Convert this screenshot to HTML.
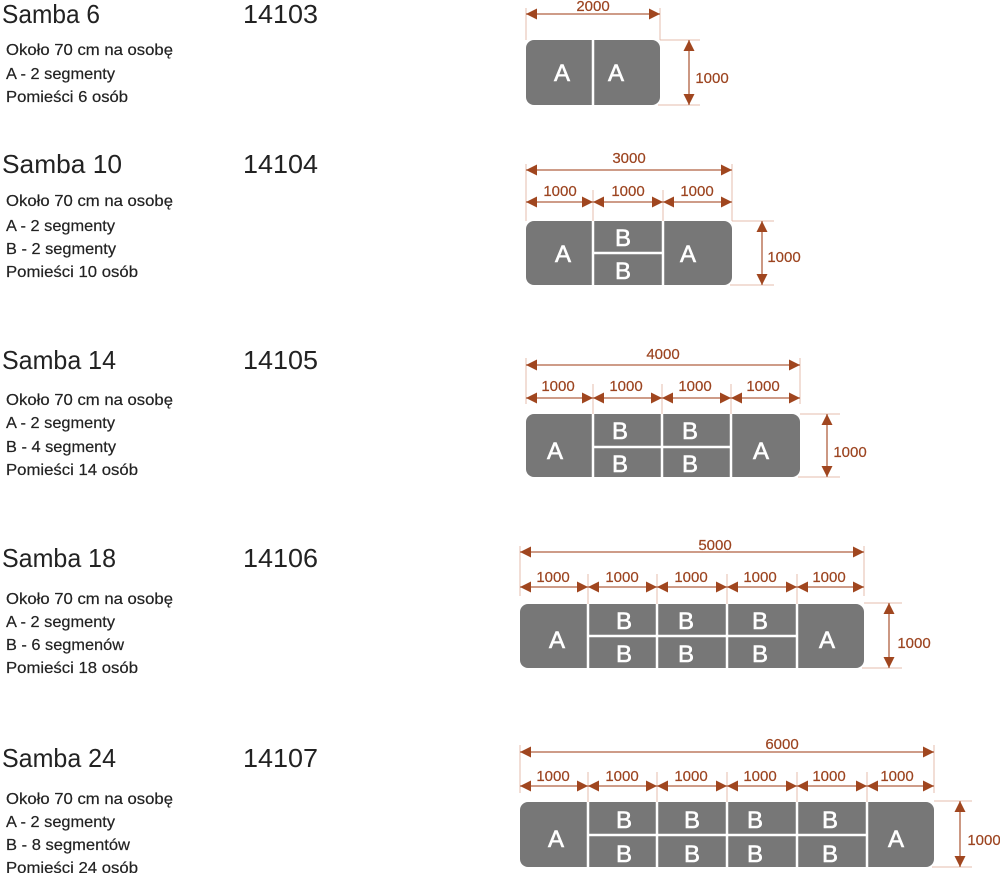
<!DOCTYPE html>
<html><head><meta charset="utf-8"><style>
html,body{margin:0;padding:0;background:#fff;}
svg{display:block;}
.t{font-family:"Liberation Sans Narrow","Liberation Sans",sans-serif;fill:#222;}
.ti{font-size:26px;}
.b{font-size:16px;stroke:#222;stroke-width:0.2;}
.d{font-family:"Liberation Sans Narrow","Liberation Sans",sans-serif;font-size:15px;fill:#9c4420;text-anchor:middle;stroke:#9c4420;stroke-width:0.2;}
.L{font-family:"Liberation Sans Narrow","Liberation Sans",sans-serif;font-size:24px;fill:#fff;text-anchor:middle;stroke:#fff;stroke-width:0.6;}
.dl{stroke:#b06040;stroke-width:1.3;marker-start:url(#ar);marker-end:url(#ar);}
.ex{stroke:#e4bcae;stroke-width:1;}
.sp{stroke:#fff;stroke-width:2.5;}
.tb{fill:#777;}
</style></head><body>
<svg width="1000" height="873" viewBox="0 0 1000 873" xmlns="http://www.w3.org/2000/svg">
<defs>
<marker id="ar" viewBox="0 0 10 10" refX="10" refY="5" markerWidth="13" markerHeight="11" markerUnits="userSpaceOnUse" orient="auto-start-reverse">
<path d="M0,0 L10,5 L0,10 z" fill="#a0461f"/>
</marker>
</defs>

<text class="t ti" x="2" y="23" textLength="98" lengthAdjust="spacingAndGlyphs">Samba 6</text>
<text class="t ti" x="243" y="23" textLength="75" lengthAdjust="spacingAndGlyphs">14103</text>
<text class="t b" x="6" y="55" textLength="167" lengthAdjust="spacingAndGlyphs">Około 70 cm na osobę</text>
<text class="t b" x="6" y="79" textLength="109" lengthAdjust="spacingAndGlyphs">A - 2 segmenty</text>
<text class="t b" x="6" y="102" textLength="122" lengthAdjust="spacingAndGlyphs">Pomieści 6 osób</text>

<text class="t ti" x="2" y="173" textLength="120" lengthAdjust="spacingAndGlyphs">Samba  10</text>
<text class="t ti" x="243" y="173" textLength="75" lengthAdjust="spacingAndGlyphs">14104</text>
<text class="t b" x="6" y="206" textLength="167" lengthAdjust="spacingAndGlyphs">Około 70 cm na osobę</text>
<text class="t b" x="6" y="231" textLength="109" lengthAdjust="spacingAndGlyphs">A - 2 segmenty</text>
<text class="t b" x="6" y="254" textLength="110" lengthAdjust="spacingAndGlyphs">B - 2 segmenty</text>
<text class="t b" x="6" y="277" textLength="132" lengthAdjust="spacingAndGlyphs">Pomieści 10 osób</text>

<text class="t ti" x="2" y="369" textLength="114" lengthAdjust="spacingAndGlyphs">Samba 14</text>
<text class="t ti" x="243" y="369" textLength="75" lengthAdjust="spacingAndGlyphs">14105</text>
<text class="t b" x="6" y="405" textLength="167" lengthAdjust="spacingAndGlyphs">Około 70 cm na osobę</text>
<text class="t b" x="6" y="428" textLength="109" lengthAdjust="spacingAndGlyphs">A - 2 segmenty</text>
<text class="t b" x="6" y="452" textLength="110" lengthAdjust="spacingAndGlyphs">B - 4 segmenty</text>
<text class="t b" x="6" y="475" textLength="132" lengthAdjust="spacingAndGlyphs">Pomieści 14 osób</text>

<text class="t ti" x="2" y="567" textLength="114" lengthAdjust="spacingAndGlyphs">Samba 18</text>
<text class="t ti" x="243" y="567" textLength="75" lengthAdjust="spacingAndGlyphs">14106</text>
<text class="t b" x="6" y="604" textLength="167" lengthAdjust="spacingAndGlyphs">Około 70 cm na osobę</text>
<text class="t b" x="6" y="627" textLength="109" lengthAdjust="spacingAndGlyphs">A - 2 segmenty</text>
<text class="t b" x="6" y="650" textLength="118" lengthAdjust="spacingAndGlyphs">B - 6 segmenów</text>
<text class="t b" x="6" y="673" textLength="132" lengthAdjust="spacingAndGlyphs">Pomieści 18 osób</text>

<text class="t ti" x="2" y="767" textLength="114" lengthAdjust="spacingAndGlyphs">Samba 24</text>
<text class="t ti" x="243" y="767" textLength="75" lengthAdjust="spacingAndGlyphs">14107</text>
<text class="t b" x="6" y="804" textLength="167" lengthAdjust="spacingAndGlyphs">Około 70 cm na osobę</text>
<text class="t b" x="6" y="827" textLength="109" lengthAdjust="spacingAndGlyphs">A - 2 segmenty</text>
<text class="t b" x="6" y="850" textLength="124" lengthAdjust="spacingAndGlyphs">B - 8 segmentów</text>
<text class="t b" x="6" y="873" textLength="132" lengthAdjust="spacingAndGlyphs">Pomieści 24 osób</text>

<!-- Diagram 1 -->
<line class="ex" x1="526" y1="8" x2="526" y2="40"/>
<line class="ex" x1="660" y1="8" x2="660" y2="40"/>
<line class="dl" x1="526" y1="14" x2="660" y2="14"/>
<text class="d" x="593" y="11">2000</text>
<rect class="tb" x="526" y="40" width="134" height="65" rx="8"/>
<line class="sp" x1="593" y1="40" x2="593" y2="105"/>
<text class="L" x="562" y="81">A</text><text class="L" x="616" y="81">A</text>
<line class="ex" x1="660" y1="40" x2="700" y2="40"/>
<line class="ex" x1="658" y1="105" x2="700" y2="105"/>
<line class="dl" x1="689" y1="40" x2="689" y2="105"/>
<text class="d" x="712" y="83">1000</text>

<!-- Diagram 2 -->
<line class="ex" x1="526" y1="164" x2="526" y2="221"/>
<line class="ex" x1="732" y1="164" x2="732" y2="221"/>
<line class="ex" x1="593" y1="190" x2="593" y2="221"/>
<line class="ex" x1="663" y1="190" x2="663" y2="221"/>
<line class="dl" x1="526" y1="170" x2="732" y2="170"/>
<text class="d" x="629" y="163">3000</text>
<line class="dl" x1="526" y1="202" x2="593" y2="202"/>
<line class="dl" x1="593" y1="202" x2="663" y2="202"/>
<line class="dl" x1="663" y1="202" x2="732" y2="202"/>
<text class="d" x="560" y="196">1000</text><text class="d" x="628" y="196">1000</text><text class="d" x="697" y="196">1000</text>
<rect class="tb" x="526" y="221" width="206" height="64" rx="8"/>
<line class="sp" x1="593" y1="221" x2="593" y2="285"/>
<line class="sp" x1="663" y1="221" x2="663" y2="285"/>
<line class="sp" x1="593" y1="253" x2="663" y2="253"/>
<text class="L" x="563" y="262">A</text><text class="L" x="688" y="262">A</text>
<text class="L" x="623" y="246">B</text><text class="L" x="623" y="279">B</text>
<line class="ex" x1="732" y1="221" x2="774" y2="221"/>
<line class="ex" x1="730" y1="285" x2="774" y2="285"/>
<line class="dl" x1="762" y1="221" x2="762" y2="285"/>
<text class="d" x="784" y="262">1000</text>

<!-- Diagram 3 -->
<line class="ex" x1="526" y1="358" x2="526" y2="404"/>
<line class="ex" x1="800" y1="358" x2="800" y2="404"/>
<line class="ex" x1="593" y1="384" x2="593" y2="414"/>
<line class="ex" x1="662" y1="384" x2="662" y2="414"/>
<line class="ex" x1="731" y1="384" x2="731" y2="414"/>
<line class="dl" x1="526" y1="365" x2="800" y2="365"/>
<text class="d" x="663" y="359">4000</text>
<line class="dl" x1="526" y1="398" x2="593" y2="398"/>
<line class="dl" x1="593" y1="398" x2="662" y2="398"/>
<line class="dl" x1="662" y1="398" x2="731" y2="398"/>
<line class="dl" x1="731" y1="398" x2="800" y2="398"/>
<text class="d" x="558" y="391">1000</text><text class="d" x="626" y="391">1000</text><text class="d" x="695" y="391">1000</text><text class="d" x="763" y="391">1000</text>
<rect class="tb" x="526" y="414" width="274" height="63" rx="8"/>
<line class="sp" x1="593" y1="414" x2="593" y2="477"/>
<line class="sp" x1="662" y1="414" x2="662" y2="477"/>
<line class="sp" x1="731" y1="414" x2="731" y2="477"/>
<line class="sp" x1="593" y1="447" x2="731" y2="447"/>
<text class="L" x="555" y="459">A</text><text class="L" x="761" y="459">A</text>
<text class="L" x="620" y="439">B</text><text class="L" x="690" y="439">B</text>
<text class="L" x="620" y="472">B</text><text class="L" x="690" y="472">B</text>
<line class="ex" x1="800" y1="414" x2="840" y2="414"/>
<line class="ex" x1="798" y1="477" x2="840" y2="477"/>
<line class="dl" x1="827" y1="414" x2="827" y2="477"/>
<text class="d" x="850" y="457">1000</text>

<!-- Diagram 4 -->
<line class="ex" x1="520" y1="546" x2="520" y2="596"/>
<line class="ex" x1="864" y1="546" x2="864" y2="596"/>
<line class="ex" x1="588" y1="574" x2="588" y2="604"/>
<line class="ex" x1="657" y1="574" x2="657" y2="604"/>
<line class="ex" x1="727" y1="574" x2="727" y2="604"/>
<line class="ex" x1="797" y1="574" x2="797" y2="604"/>
<line class="dl" x1="520" y1="552" x2="864" y2="552"/>
<text class="d" x="715" y="550">5000</text>
<line class="dl" x1="520" y1="587" x2="588" y2="587"/>
<line class="dl" x1="588" y1="587" x2="657" y2="587"/>
<line class="dl" x1="657" y1="587" x2="727" y2="587"/>
<line class="dl" x1="727" y1="587" x2="797" y2="587"/>
<line class="dl" x1="797" y1="587" x2="864" y2="587"/>
<text class="d" x="553" y="582">1000</text><text class="d" x="622" y="582">1000</text><text class="d" x="691" y="582">1000</text><text class="d" x="760" y="582">1000</text><text class="d" x="829" y="582">1000</text>
<rect class="tb" x="520" y="604" width="344" height="64" rx="8"/>
<line class="sp" x1="588" y1="604" x2="588" y2="668"/>
<line class="sp" x1="657" y1="604" x2="657" y2="668"/>
<line class="sp" x1="727" y1="604" x2="727" y2="668"/>
<line class="sp" x1="797" y1="604" x2="797" y2="668"/>
<line class="sp" x1="588" y1="636" x2="797" y2="636"/>
<text class="L" x="557" y="648">A</text><text class="L" x="827" y="648">A</text>
<text class="L" x="624" y="629">B</text><text class="L" x="686" y="629">B</text><text class="L" x="760" y="629">B</text>
<text class="L" x="624" y="662">B</text><text class="L" x="686" y="662">B</text><text class="L" x="760" y="662">B</text>
<line class="ex" x1="864" y1="603" x2="902" y2="603"/>
<line class="ex" x1="862" y1="668" x2="902" y2="668"/>
<line class="dl" x1="889" y1="603" x2="889" y2="668"/>
<text class="d" x="914" y="648">1000</text>

<!-- Diagram 5 -->
<line class="ex" x1="520" y1="745" x2="520" y2="793"/>
<line class="ex" x1="934" y1="745" x2="934" y2="793"/>
<line class="ex" x1="588" y1="772" x2="588" y2="802"/>
<line class="ex" x1="657" y1="772" x2="657" y2="802"/>
<line class="ex" x1="727" y1="772" x2="727" y2="802"/>
<line class="ex" x1="797" y1="772" x2="797" y2="802"/>
<line class="ex" x1="867" y1="772" x2="867" y2="802"/>
<line class="dl" x1="520" y1="752" x2="934" y2="752"/>
<text class="d" x="782" y="749">6000</text>
<line class="dl" x1="520" y1="786" x2="588" y2="786"/>
<line class="dl" x1="588" y1="786" x2="657" y2="786"/>
<line class="dl" x1="657" y1="786" x2="727" y2="786"/>
<line class="dl" x1="727" y1="786" x2="797" y2="786"/>
<line class="dl" x1="797" y1="786" x2="867" y2="786"/>
<line class="dl" x1="867" y1="786" x2="934" y2="786"/>
<text class="d" x="553" y="781">1000</text><text class="d" x="622" y="781">1000</text><text class="d" x="691" y="781">1000</text><text class="d" x="760" y="781">1000</text><text class="d" x="829" y="781">1000</text><text class="d" x="897" y="781">1000</text>
<rect class="tb" x="520" y="802" width="414" height="65" rx="8"/>
<line class="sp" x1="588" y1="802" x2="588" y2="867"/>
<line class="sp" x1="657" y1="802" x2="657" y2="867"/>
<line class="sp" x1="727" y1="802" x2="727" y2="867"/>
<line class="sp" x1="797" y1="802" x2="797" y2="867"/>
<line class="sp" x1="867" y1="802" x2="867" y2="867"/>
<line class="sp" x1="588" y1="835" x2="867" y2="835"/>
<text class="L" x="556" y="847">A</text><text class="L" x="896" y="847">A</text>
<text class="L" x="624" y="828">B</text><text class="L" x="692" y="828">B</text><text class="L" x="755" y="828">B</text><text class="L" x="830" y="828">B</text>
<text class="L" x="624" y="862">B</text><text class="L" x="692" y="862">B</text><text class="L" x="755" y="862">B</text><text class="L" x="830" y="862">B</text>
<line class="ex" x1="934" y1="801" x2="972" y2="801"/>
<line class="ex" x1="932" y1="867" x2="972" y2="867"/>
<line class="dl" x1="960" y1="801" x2="960" y2="867"/>
<text class="d" x="984" y="845">1000</text>
</svg>
</body></html>
